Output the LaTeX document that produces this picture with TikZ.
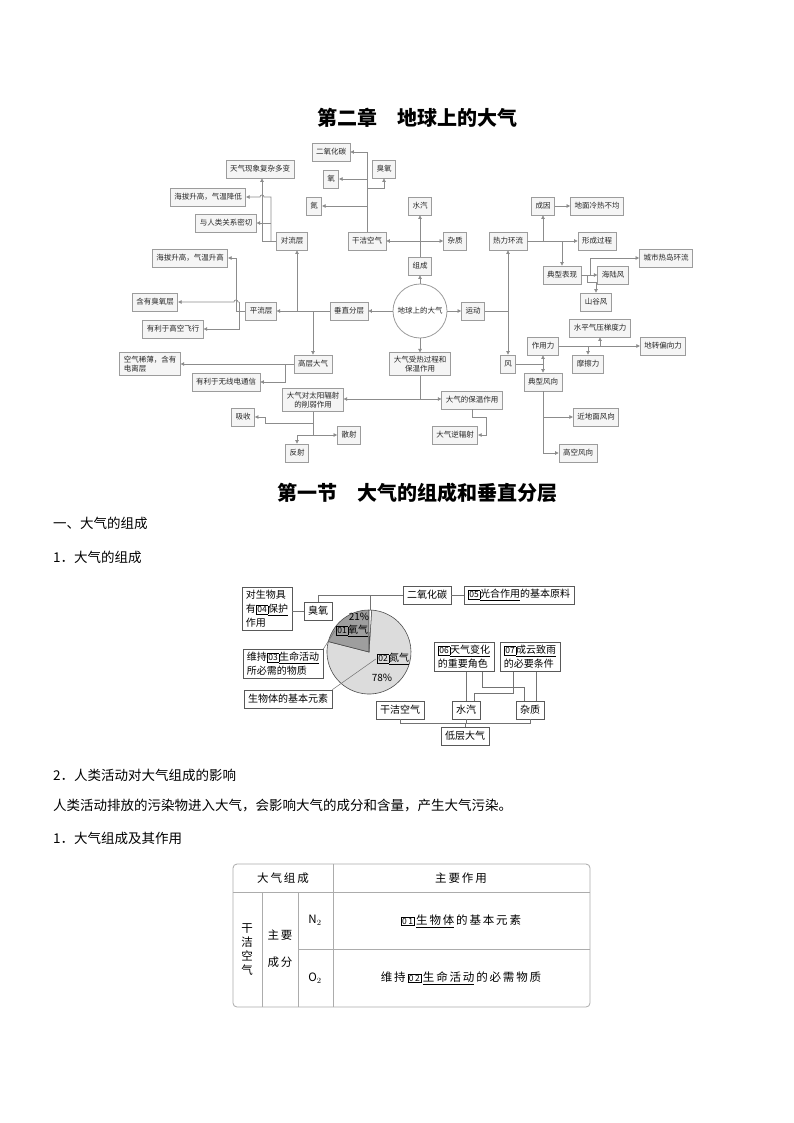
\documentclass[tikz,border=0pt]{standalone}
\usepackage{fontspec}
\setmainfont{Noto Sans CJK SC}
\newfontfamily\tabfont[LetterSpace=16]{Noto Sans CJK SC}
\usetikzlibrary{arrows.meta,positioning}
\definecolor{linegray}{HTML}{8C8C8C}
\definecolor{boxline}{HTML}{9C9C9C}
\definecolor{boxfill}{HTML}{F5F5F5}
\definecolor{oxgray}{HTML}{9E9E9E}
\definecolor{nigray}{HTML}{DCDCDC}
\newcommand{\qnum}[1]{{\setlength{\fboxsep}{0.8pt}\setlength{\fboxrule}{0.5pt}\fbox{\fontsize{8.5}{8.5}\selectfont #1}}}

\begin{document}
\begin{tikzpicture}[x=1pt,y=-1pt,
  mbox/.style={draw=boxline,fill=boxfill,line width=0.8pt,inner xsep=4pt,inner ysep=3pt,
    minimum height=18pt,text=black!85,font=\fontsize{7.5}{9.5}\selectfont,align=center},
  link/.style={draw=linegray,line width=0.7pt},
  arr/.style={link,-{Triangle[length=3.5pt,width=3.5pt]}},
  arrs/.style={link,{Triangle[length=3.5pt,width=3.5pt]}-{Triangle[length=3.5pt,width=3.5pt]}},
  pbox/.style={draw=black!65,fill=white,line width=0.6pt,inner xsep=4pt,inner ysep=3pt,
    minimum height=18pt,font=\fontsize{10}{14}\selectfont,align=left},
  plab/.style={font=\fontsize{10}{12}\selectfont,inner sep=1pt},
  plink/.style={draw=black!55,line width=0.5pt},
  tline/.style={draw=gray!65,line width=0.8pt},
  tcell/.style={font=\tabfont\fontsize{11.5}{14}\selectfont,align=center,inner sep=1pt},
  heading/.style={font=\bfseries\fontsize{20}{20}\selectfont},
  body/.style={anchor=west,inner sep=0pt,font=\fontsize{13.5}{14}\selectfont}]
  \useasboundingbox (0,0) rectangle (794,1123);
  \fill[white] (0,0) rectangle (794,1123);

  \node[heading] (title) at (417,118) {第二章　地球上的大气};

  \foreach \nm/\px/\py/\txt in {
    tianqi/260/169/天气现象复杂多变, jiangdi/208/197/{海拔升高，气温降低},
    renlei/226/223/与人类关系密切, duiliu/292/241/对流层,
    shenggao/190/258/{海拔升高，气温升高}, chouyangceng/155/302/含有臭氧层,
    gaokongfx/173/329/有利于高空飞行, pingliu/261/311/平流层,
    chuizhi/349/311/垂直分层, gaoceng/313/364/高层大气,
    wuxiandian/226/382/有利于无线电通信, xueruo/313/400/{大气对太阳辐射\\的削弱作用},
    xishou/243/417/吸收, sanshe/349/435/散射, fanshe/297/453/反射,
    co2/331/152/二氧化碳, yang/331/179/氧, chouyang/384/169/臭氧, dan/314/206/氮,
    ganjie/367/241/干洁空气, shuiqi/420/206/水汽, zazhi/455/241/杂质, zucheng/420/266/组成,
    yundong/473/311/运动, shoure/420/364/{大气受热过程和\\保温作用},
    baowen/472/400/大气的保温作用, nifushe/455/435/大气逆辐射,
    relihl/508/241/热力环流, chengyin/543/206/成因, lengre/597/206/地面冷热不均,
    xingcheng/597/241/形成过程, dianxing/562/275/典型表现, reidao/666/258/城市热岛环流,
    hailu/613/275/海陆风, shangu/596/302/山谷风,
    feng/508/364/风, zuoyongli/543/346/作用力, tidu/600/328/水平气压梯度力,
    zhuanxiang/663/346/地转偏向力, moca/588/364/摩擦力, fengxiang/543/382/典型风向,
    jindimian/596/417/近地面风向, gaokong/578/453/高空风向}
  {
    \node[mbox] (\nm) at (\px,\py) {\txt};
  }
  \node[mbox,align=left] (dianli) at (150,364) {空气稀薄，含有\\电离层};
  \node[mbox,circle,fill=white,minimum size=54pt,inner sep=0pt] (earth) at (420,311) {地球上的大气};

  % composition
  \draw[arr] (earth) -- (zucheng);
  \draw[arr] (zucheng) -- (shuiqi);
  \draw[arrs] (ganjie) -- (zazhi);
  \draw[arr] (ganjie.north) |- (co2.east);
  \draw[arr] (ganjie.north |- yang.east) -- (yang.east);
  \draw[arr] (ganjie.north |- dan.east) -- (dan.east);
  \coordinate (cy) at (367,188);
  \draw[arr] (cy) -| (chouyang.south);

  % motion
  \draw[arr] (earth) -- (yundong);
  \coordinate (yd) at (508,311);
  \draw[link] (yundong) -- (yd);
  \draw[arr] (yd) -- (relihl.south);
  \draw[arr] (yd) -- (feng.north);
  \draw[arr] (relihl) -- (xingcheng);
  \coordinate (rl1) at (543,241);
  \coordinate (rl2) at (562,241);
  \draw[arr] (rl1) -- (chengyin.south);
  \draw[arr] (rl2) -- (dianxing.north);
  \draw[arr] (chengyin) -- (lengre);
  \draw[arr] (dianxing) -- (hailu);
  \coordinate (dx1) at (590,275);
  \coordinate (dx2) at (587,275);
  \draw[arr] (dx1) |- (reidao.west);
  \draw[arr] (dx2) -- ++(0,7) -| (shangu.north);
  \coordinate (fg) at (543,364);
  \draw[link] (feng) -- (fg);
  \draw[arr] (fg) -- (zuoyongli.south);
  \draw[arr] (fg) -- (fengxiang.north);
  \draw[arr] (zuoyongli) -- (zhuanxiang);
  \coordinate (zy1) at (600,346);
  \coordinate (zy2) at (588,346);
  \draw[arr] (zy1) -- (tidu.south);
  \draw[arr] (zy2) -- (moca.north);
  \draw[arr] (fengxiang.south) |- (jindimian.west);
  \draw[arr] (fengxiang.south) |- (gaokong.west);

  % heating
  \draw[arr] (earth) -- (shoure);
  \coordinate (sr) at (420,399);
  \draw[link] (shoure) -- (sr);
  \draw[arr] (sr) -- (sr -| baowen.west);
  \draw[arr] (sr) -- (sr -| xueruo.east);
  \coordinate (bw) at (486,417);
  \draw[arr] (baowen.south) |- (bw) |- (nifushe.east);
  \coordinate (xr1) at (313,423);
  \coordinate (xr2) at (313,435);
  \coordinate (xs) at (265,417);
  \draw[link] (xueruo) -- (xr2);
  \draw[arr] (xr1) -| (xs) -- (xishou);
  \draw[arr] (xr2) -- (sanshe);
  \draw[arr] (xr2) -| (fanshe.north);

  % layers
  \draw[arr] (earth) -- (chuizhi);
  \draw[arr] (chuizhi) -- (pingliu);
  \coordinate (cz1) at (297,311);
  \coordinate (cz2) at (313,311);
  \draw[arr] (cz1) -- (cz1 |- duiliu.south);
  \draw[arr] (cz2) -- (gaoceng.north);
  \draw[arr] (gaoceng) -- (dianli);
  \coordinate (gc) at (285,364);
  \draw[arr] (gc) |- (wuxiandian.east);
  \coordinate (pl1) at (236,311);
  \coordinate (pl2) at (239,302);
  \draw[link] (pingliu) -- (pl1);
  \draw[arr] (pl1) |- (shenggao.east);
  \draw[arr] (pl2) |- (gaokongfx.east);
  \draw[arr] (pl2) -- ++(-1,0) arc[start angle=0,end angle=-180,radius=2] -- (chouyangceng.east);
  \coordinate (dl1) at (262,241);
  \coordinate (dl2) at (271,241);
  \coordinate (dl3) at (271,197);
  \draw[link] (duiliu) -- (dl1);
  \draw[arr] (dl1) -- (dl1 |- tianqi.south);
  \draw[arr] (dl2) -- (dl3) -- ++(-7,0) arc[start angle=0,end angle=-180,radius=2] -- (jiangdi.east);
  \draw[arr] (dl2 |- renlei.east) -- (renlei.east);

  \node[heading] (sec) at (417,493) {第一节　大气的组成和垂直分层};
  \node[body] (h1) at (53,523) {一、大气的组成};
  \node[body] (h2) at (53,557) {1．大气的组成};

  % pie chart
  \begin{scope}[shift={(369,652)},yscale=-1]
    \filldraw[fill=nigray,draw=black!70,line width=0.6pt] (0,0) -- (165.6:42) arc[start angle=165.6,end angle=446.4,radius=42] -- cycle;
    \filldraw[fill=oxgray,draw=black!70,line width=0.6pt] (0,0) -- (90:42) arc[start angle=90,end angle=165.6,radius=42] -- cycle;
    \filldraw[fill=white,draw=black!70,line width=0.5pt] (0,0) -- (86.4:42) arc[start angle=86.4,end angle=90,radius=42] -- cycle;
  \end{scope}
  \node[plab] (pct21) at (359,617) {21\%};
  \node[plab] (o2lab) at (352,631) {\qnum{01}\underline{氧气}};
  \node[plab] (n2lab) at (393,659) {\qnum{02}\underline{氮气}};
  \node[plab] (pct78) at (382,678) {78\%};

  \node[pbox] (baohu) at (267,609) {对生物具\\有\qnum{04}\underline{保护}\\作用};
  \node[pbox] (chouy) at (318,611) {臭氧};
  \node[pbox] (co2b) at (427,595) {二氧化碳};
  \node[pbox] (guanghe) at (519,595) {\qnum{05}\underline{光合作用}的基本原料};
  \node[pbox] (weichi) at (283,664) {维持\qnum{03}\underline{生命活动}\\所必需的物质};
  \node[pbox] (yuansu) at (288,699) {生物体的基本元素};
  \node[pbox] (tqbh) at (464,657) {\qnum{06}\underline{天气变化}\\的重要角色};
  \node[pbox] (cyzy) at (530,657) {\qnum{07}\underline{成云致雨}\\的必要条件};
  \node[pbox] (gjkq) at (400,710) {干洁空气};
  \node[pbox] (sq) at (466,710) {水汽};
  \node[pbox] (zz) at (530,710) {杂质};
  \node[pbox] (dcdq) at (465,736) {低层大气};

  \coordinate (pj) at (370,595);
  \coordinate (ptop) at (370,610);
  \draw[plink] (chouy.north) |- (co2b.west);
  \draw[plink] (pj) -- (ptop);
  \draw[plink] (chouy.west -| baohu.east) -- (chouy.west);
  \draw[plink] (co2b) -- (guanghe);
  \draw[plink] (weichi.north east) -- (o2lab.west);
  \draw[plink] (yuansu.north east) -- (n2lab.west);
  \coordinate (dc) at (465,723);
  \draw[plink] (dcdq.north) -- (dc);
  \draw[plink] (gjkq.south) -- (gjkq.south |- dc) -- (zz.south |- dc) -- (zz.south);
  \draw[plink] (sq.south) -- (sq.south |- dc);
  \draw[plink] (sq.north |- tqbh.south) -- (sq.north);
  \coordinate (t1) at (482,687);
  \coordinate (t2) at (524,687);
  \draw[plink] (t1 |- tqbh.south) -- (t1) -- (t2) -- (t2 |- zz.north);
  \coordinate (c1) at (513,693);
  \coordinate (c2) at (474,693);
  \draw[plink] (c1 |- cyzy.south) -- (c1) -- (c2) -- (c2 |- sq.north);
  \coordinate (c3) at (536,700);
  \draw[plink] (c3 |- cyzy.south) -- (c3 |- zz.north);

  \node[body] (h3) at (53,775) {2．人类活动对大气组成的影响};
  \node[body] (p1) at (53,806) {人类活动排放的污染物进入大气，会影响大气的成分和含量，产生大气污染。};
  \node[body] (h4) at (53,838) {1．大气组成及其作用};

  % table
  \draw[tline,rounded corners=4pt] (233,864) rectangle (590,1007);
  \draw[tline] (233,892) -- (590,892);
  \draw[tline] (333,864) -- (333,1007);
  \draw[tline] (262,892) -- (262,1007);
  \draw[tline] (298,892) -- (298,1007);
  \draw[tline] (298,949) -- (590,949);
  \node[tcell] (th1) at (283,878) {大气组成};
  \node[tcell] (th2) at (461,878) {主要作用};
  \node[tcell] (gjcol) at (247,950) {干\\洁\\空\\气};
  \node[tcell,font=\tabfont\fontsize{11.5}{27}\selectfont] (zycf) at (280,949) {主要\\成分};
  \node[tcell] (n2) at (315,920) {N$_2$};
  \node[tcell] (o2) at (315,978) {O$_2$};
  \node[tcell] (r1) at (461,921) {\qnum{01}\,\underline{生物体}\hspace{1.8pt}的基本元素};
  \node[tcell] (r2) at (461,978) {维持\,\qnum{02}\,\underline{生命活动}\hspace{1.8pt}的必需物质};
\end{tikzpicture}
\end{document}
